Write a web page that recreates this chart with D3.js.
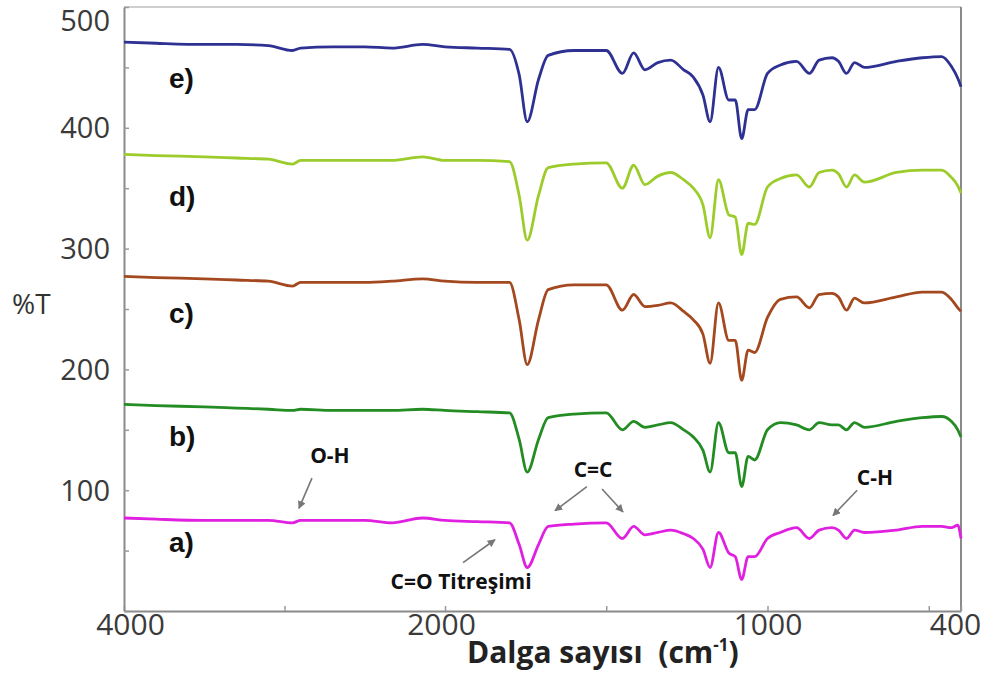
<!DOCTYPE html>
<html>
<head>
<meta charset="utf-8">
<script src="https://cdn.jsdelivr.net/npm/d3@7"></script>
<style>
  body { margin: 0; background: #fff; }
  svg { display: block; }
</style>
</head>
<body>
<div id="chart"></div>
<script>
// wave numbers (cm-1) shared by every spectrum
const wavenumbers = [4000, 3800, 3500, 3300, 3100, 2950, 2900, 2700, 2500, 2330, 2140, 2000,
  1900, 1800, 1770, 1745, 1710, 1680, 1600, 1500, 1450, 1415, 1380, 1340, 1300, 1260, 1230,
  1200, 1178, 1152, 1120, 1100, 1080, 1060, 1040, 1000, 960, 910, 870, 840, 800, 780, 755,
  730, 700, 600, 520, 460, 430, 410, 400];

// %T values, one array per spectrum
const spectrumA = [77, 76, 75, 75, 75, 73, 75, 75, 75, 73, 77, 75, 74, 73, 55, 36, 55, 70, 72, 73,
  60, 70, 63, 65, 67, 64, 60, 51, 36, 65, 48, 45, 26, 45, 45, 60, 65, 69, 60, 67, 69, 67, 60, 67,
  65, 67, 70, 70, 69, 71, 60];
const spectrumB = [171, 170, 169, 168, 167, 166, 167, 166, 166, 166, 167, 166, 165, 164, 142, 115,
  142, 160, 163, 164, 150, 157, 152, 154, 156, 150, 144, 133, 115, 156, 131, 131, 103, 128, 125,
  150, 156, 154, 150, 156, 154, 154, 150, 156, 152, 157, 160, 161, 157, 150, 144];
const spectrumC = [277, 276, 275, 274, 273, 269, 272, 272, 272, 273, 275, 273, 272, 272, 241, 204,
  241, 266, 270, 270, 249, 262, 252, 253, 255, 248, 241, 229, 205, 255, 224, 224, 191, 216, 214,
  243, 258, 260, 251, 262, 263, 260, 249, 259, 255, 260, 264, 264, 258, 251, 248];
const spectrumD = [378, 377, 376, 375, 374, 370, 373, 373, 373, 373, 376, 373, 373, 372, 344, 307,
  344, 367, 370, 371, 350, 369, 353, 360, 363, 357, 350, 336, 309, 357, 328, 326, 295, 321, 320,
  351, 358, 361, 351, 363, 365, 362, 351, 361, 355, 363, 365, 365, 359, 352, 346];
const spectrumE = [471, 470, 469, 469, 468, 464, 466, 467, 467, 466, 469, 467, 466, 465, 444, 405,
  440, 460, 464, 464, 445, 462, 448, 454, 456, 448, 442, 427, 405, 450, 423, 423, 391, 415, 415,
  445, 452, 455, 445, 456, 458, 455, 445, 454, 450, 455, 458, 459, 451, 441, 434];

const seriesNames = ["a)", "b)", "c)", "d)", "e)"];
const seriesValues = [spectrumA, spectrumB, spectrumC, spectrumD, spectrumE];

const xTicks = [4000, 3000, 2000, 1500, 1000, 500, 400];
const xTickLabels = [4000, 2000, 1000, 400];
const yTicks = [0, 50, 100, 150, 200, 250, 300, 350, 400, 450, 500];
const yTickLabels = [100, 200, 300, 400, 500];

const colors = ["#e020e0", "#238c23", "#a4481f", "#9ccc2c", "#2e3192"];

const width = 987, height = 677;

// axe x cassé : échelle différente avant et après 2000
const x = d3.scaleLinear()
    .domain([4000, 2000, 400])
    .range([124, 445, 961]);

const y = d3.scaleLinear()
    .domain([0, 500])
    .range([611, 7]);

const svg = d3.select("#chart").append("svg")
    .attr("width", width)
    .attr("height", height);

// cadre du graphique
svg.append("line")
    .attr("x1", x(4000)).attr("x2", x(400))
    .attr("y1", y(500)).attr("y2", y(500))
    .attr("stroke", "#cfcfcf").attr("stroke-width", 2);
svg.append("line")
    .attr("x1", x(400)).attr("x2", x(400))
    .attr("y1", y(500)).attr("y2", y(0))
    .attr("stroke", "#8a8a8a").attr("stroke-width", 2);

// axe x
const xAxis = svg.append("g")
    .attr("transform", "translate(0," + y(0) + ")")
    .call(d3.axisBottom(x)
        .tickValues(xTicks)
        .tickSizeInner(-5)
        .tickSizeOuter(0)
        .tickFormat(d => xTickLabels.includes(d) ? d : ""));

// axe y
const yAxis = svg.append("g")
    .attr("transform", "translate(" + x(4000) + ",0)")
    .call(d3.axisLeft(y)
        .tickValues(yTicks)
        .tickSizeInner(-5)
        .tickSizeOuter(0)
        .tickFormat(d => yTickLabels.includes(d) ? d : ""));

[xAxis, yAxis].forEach(g => {
  g.select(".domain").attr("stroke", "#8a8a8a").attr("stroke-width", 2);
  g.selectAll(".tick line").attr("stroke", "#9a9a9a").attr("stroke-width", 1.5);
  g.selectAll("text")
      .attr("fill", "#3a3a3a")
      .style("font-family", "'Open Sans', sans-serif");
});

xAxis.selectAll("text")
    .style("font-size", "30px")
    .attr("y", 3)
    .attr("dx", d => d === 4000 ? 6 : d === 400 ? -6 : d === 2000 ? -4 : 0);

yAxis.selectAll("text")
    .style("font-size", "29px")
    .attr("x", -14)
    .attr("dy", d => d === 500 ? "0.8em" : "0.34em");

// titre de l'axe y
svg.append("text")
    .attr("x", 12).attr("y", 314)
    .attr("fill", "#333")
    .style("font-family", "'Open Sans', sans-serif")
    .style("font-size", "28px")
    .text("%T");

// titre de l'axe x
const xTitle = svg.append("text")
    .attr("x", 467).attr("y", 663)
    .attr("fill", "#222")
    .style("white-space", "pre")
    .style("font-family", "'Open Sans', sans-serif")
    .style("font-weight", "bold")
    .style("font-size", "30px");
xTitle.append("tspan").text("Dalga sayısı  (cm");
xTitle.append("tspan").attr("dy", -12).style("font-size", "17px").text("-1");
xTitle.append("tspan").attr("dy", 12).text(")");

// les spectres
const line = d3.line()
    .x(d => x(d[0]))
    .y(d => y(d[1]))
    .curve(d3.curveMonotoneX);

seriesValues.forEach((vals, i) => {
  svg.append("path")
      .datum(wavenumbers.map((w, j) => [w, vals[j]]))
      .attr("fill", "none")
      .attr("stroke", colors[i])
      .attr("stroke-width", 2.8)
      .attr("stroke-linejoin", "round")
      .attr("d", line);
});

// étiquettes a) ... e)
const labelAt = [[3720, 57], [3720, 145], [3720, 247], [3720, 344], [3720, 441]];
svg.selectAll(".serie-label")
    .data(seriesNames)
    .enter().append("text")
    .attr("class", "serie-label")
    .attr("x", (d, i) => x(labelAt[i][0]))
    .attr("y", (d, i) => y(labelAt[i][1]))
    .attr("dy", "0.36em")
    .attr("fill", "#111")
    .style("font-family", "'Liberation Sans', Arial, sans-serif")
    .style("font-weight", "bold")
    .style("font-size", "28px")
    .text(d => d);

// annotations des bandes
const notes = [
  {text: "O-H", tx: 2717, ty: 129, arrows: [[2829, 110, 2910, 85]]},
  {text: "C=C", tx: 1541, ty: 117, arrows: [[1560, 103, 1659, 83], [1513, 101, 1448, 82]]},
  {text: "C=O Titreşimi", tx: 1950, ty: 24, arrows: [[1944, 40, 1845, 59]]},
  {text: "C-H", tx: 667, ty: 110, arrows: [[722, 100, 797, 79]]}
];

svg.append("defs").append("marker")
    .attr("id", "head")
    .attr("viewBox", "0 0 10 10")
    .attr("refX", 9).attr("refY", 5)
    .attr("markerWidth", 5).attr("markerHeight", 5)
    .attr("orient", "auto")
    .append("path")
    .attr("d", "M0,0 L10,5 L0,10 z")
    .attr("fill", "#777");

notes.forEach(n => {
  svg.append("text")
      .attr("x", x(n.tx)).attr("y", y(n.ty))
      .attr("dy", "0.35em")
      .attr("text-anchor", "middle")
      .attr("fill", "#111")
      .style("font-family", "'Open Sans', sans-serif")
      .style("font-weight", "bold")
      .style("font-size", "21px")
      .text(n.text);
  n.arrows.forEach(a => {
    svg.append("line")
        .attr("x1", x(a[0])).attr("y1", y(a[1]))
        .attr("x2", x(a[2])).attr("y2", y(a[3]))
        .attr("stroke", "#777")
        .attr("stroke-width", 1.6)
        .attr("marker-end", "url(#head)");
  });
});
</script>
</body>
</html>
